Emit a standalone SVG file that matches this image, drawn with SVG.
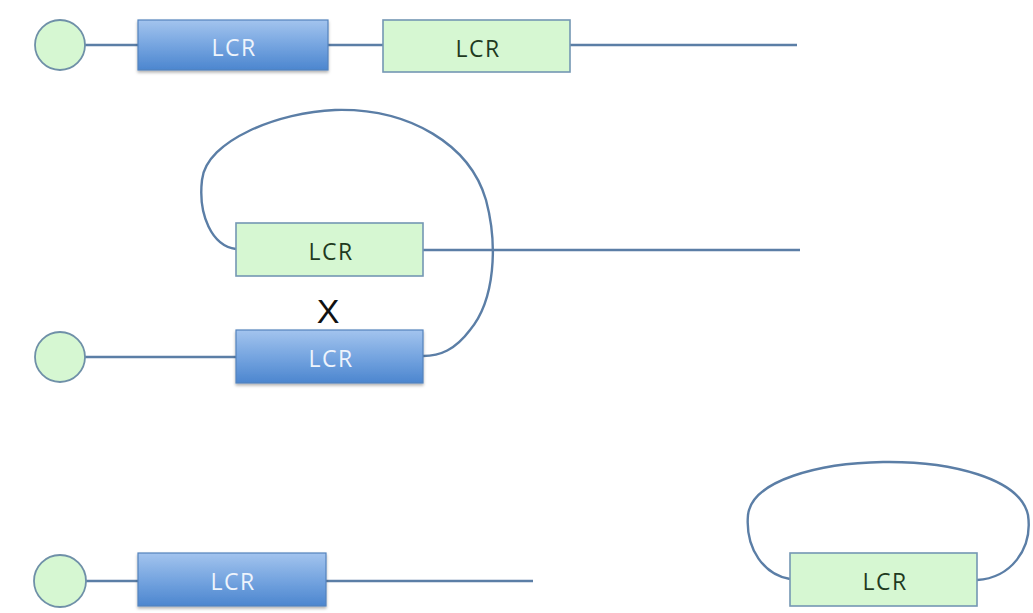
<svg xmlns="http://www.w3.org/2000/svg" width="1033" height="613" viewBox="0 0 1033 613">
<defs>
<linearGradient id="blueGrad" x1="0" y1="0" x2="0" y2="1">
<stop offset="0" stop-color="#a3c4ee"/>
<stop offset="0.5" stop-color="#76a5e0"/>
<stop offset="1" stop-color="#4c86cf"/>
</linearGradient>
<filter id="shadow" x="-10%" y="-10%" width="120%" height="140%">
<feDropShadow dx="0" dy="2" stdDeviation="1.5" flood-color="#000" flood-opacity="0.3"/>
</filter>
</defs>
<style>
.wire{fill:none;stroke:#5b7ea6;stroke-width:2.4}
.blue{fill:url(#blueGrad);stroke:#5483bd;stroke-width:1.2;filter:url(#shadow)}
.green{fill:#d6f7d2;stroke:#7497b3;stroke-width:1.6}
.circ{fill:#d6f7d2;stroke:#6f90a8;stroke-width:1.8}
.tw{font-family:"Open Sans","Liberation Sans",sans-serif;font-size:23px;letter-spacing:1.5px;fill:#eef4fc;text-anchor:middle}
.tg{font-family:"Open Sans","Liberation Sans",sans-serif;font-size:23px;letter-spacing:1.5px;fill:#1f3a1f;text-anchor:middle}
.x{font-family:"Liberation Sans",sans-serif;font-size:34px;fill:#111;text-anchor:middle}
</style>
<g id="connectors">
<line class="wire" x1="85" y1="45" x2="138" y2="45"/>
<line class="wire" x1="328" y1="45" x2="383" y2="45"/>
<line class="wire" x1="570" y1="45" x2="797" y2="45"/>
<line class="wire" x1="423" y1="250" x2="800" y2="250"/>
<path class="wire" d="M236 249 C212 246 198 215 202 180 C206 140 280 112 335 110 C410 108 470 145 486 200 C498 245 495 300 470 330 C455 350 440 356 423 356"/>
<line class="wire" x1="85" y1="357" x2="236" y2="357"/>
<line class="wire" x1="86" y1="581" x2="138" y2="581"/>
<line class="wire" x1="326" y1="581" x2="533" y2="581"/>
<path class="wire" d="M790 579 C765 575 745 550 748 515 C752 480 820 463 883 462 C950 461 1020 478 1028 515 C1033 550 1010 578 977 580"/>
</g>
<g id="n1-circle"><circle class="circ" cx="60" cy="45" r="25"/></g>
<g id="n1-blue"><rect class="blue" x="138" y="20" width="190" height="50"/><text class="tw" x="234" y="56">LCR</text></g>
<g id="n1-green"><rect class="green" x="383" y="20" width="187" height="52"/><text class="tg" x="478" y="57">LCR</text></g>
<g id="n2-green"><rect class="green" x="236" y="223" width="187" height="53"/><text class="tg" x="331" y="260">LCR</text></g>
<g id="n2-x"><text class="x" x="328" y="323">X</text></g>
<g id="n2-circle"><circle class="circ" cx="60" cy="357" r="25"/></g>
<g id="n2-blue"><rect class="blue" x="236" y="330" width="187" height="53"/><text class="tw" x="331" y="367">LCR</text></g>
<g id="n3-circle"><circle class="circ" cx="60" cy="581" r="26"/></g>
<g id="n3-blue"><rect class="blue" x="138" y="553" width="188" height="53"/><text class="tw" x="233" y="590">LCR</text></g>
<g id="n4-green"><rect class="green" x="790" y="553" width="187" height="53"/><text class="tg" x="885" y="590">LCR</text></g>
</svg>
